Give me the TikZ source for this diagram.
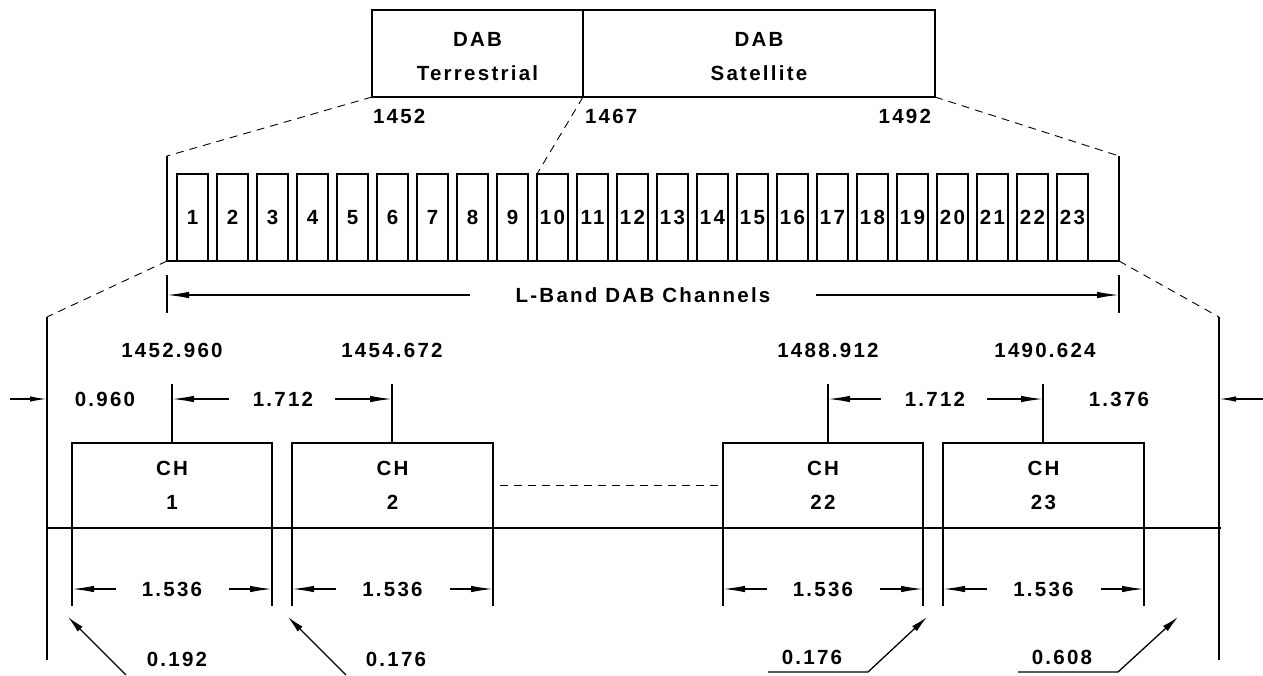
\documentclass[tikz,border=0pt]{standalone}
\usepackage{fontspec}
\setmainfont{Liberation Sans}[LetterSpace=11, BoldFont={Liberation Sans Bold}]
\usetikzlibrary{arrows.meta, positioning, calc}

\begin{document}
\begin{tikzpicture}[x=1pt, y=-1pt,
    every node/.style={font=\fontsize{20.5}{34}\selectfont\bfseries, inner sep=0pt, outer sep=0pt},
    bandbox/.style={draw, line width=1.8pt, anchor=north west, align=center, minimum height=87pt},
    chanbox/.style={draw, line width=1.5pt, anchor=north west, minimum width=31pt, minimum height=87pt},
    chbox/.style={draw, line width=1.8pt, anchor=north west, align=center, minimum height=85pt},
    guide/.style={line width=0.9pt, dash pattern=on 8pt off 6pt},
    edge/.style={line width=1.8pt},
    dimline/.style={line width=1.4pt},
    dimarrow/.style={-{Latex[length=22pt,width=6.5pt]}, line width=1.4pt},
    sidearrow/.style={-{Latex[length=17pt,width=5.5pt]}, line width=1.4pt},
    leader/.style={-{Latex[length=17pt,width=7pt]}, line width=1.3pt}
  ]
  \useasboundingbox (0,0) rectangle (1263,675);

  % Band allocation
  \node[bandbox, minimum width=211pt] (terr) at (372,10) {\rule{0pt}{20pt}DAB\\Terrestrial};
  \node[bandbox, minimum width=352pt] (sat) at (583,10) {\rule{0pt}{20pt}DAB\\Satellite};
  \node[anchor=west] (f1452) at (373,116) {1452};
  \node[anchor=west] (f1467) at (585,116) {1467};
  \node[anchor=east] (f1492) at (931,116) {1492};

  % Channel band
  \coordinate (bandTL) at (167,156);
  \coordinate (bandBL) at (167,261);
  \coordinate (bandBR) at (1119,261);
  \coordinate (bandTR) at (1119,156);
  \foreach \n in {1,...,23}
    \node[chanbox] (c\n) at ({177+40*(\n-1)},174) {\n};
  \draw[edge] (bandTL) -- (bandBL) -- (bandBR) -- (bandTR);
  \draw[guide] (terr.south west) -- (bandTL);
  \draw[guide] (sat.south east) -- (bandTR);
  \draw[guide] (terr.south east) -- (c10.north west);

  % L-Band span
  \node (lband) at (643,295) {L-Band DAB Channels};
  \coordinate (lbL) at (167,295);
  \coordinate (lbR) at (1119,295);
  \draw[dimline] ($(lbL)+(0,-20)$) -- ($(lbL)+(0,18)$);
  \draw[dimline] ($(lbR)+(0,-20)$) -- ($(lbR)+(0,18)$);
  \draw[dimarrow] ([xshift=-46pt]lband.west) -- (lbL);
  \draw[dimarrow] ([xshift=46pt]lband.east) -- (lbR);

  % Zoomed view
  \coordinate (zoomTL) at (47,317);
  \coordinate (zoomTR) at (1219,317);
  \coordinate (zoomBL) at (47,660);
  \coordinate (zoomBR) at (1219,660);
  \draw[guide] (bandBL) -- (zoomTL);
  \draw[guide] (bandBR) -- (zoomTR);
  \draw[edge] (zoomTL) -- (zoomBL);
  \draw[edge] (zoomTR) -- (zoomBR);
  \draw[edge] (zoomTL |- 0,528) -- (1221,528);

  \node[chbox, minimum width=200pt] (ch1) at (72,443) {CH\\1};
  \node[chbox, minimum width=201pt] (ch2) at (292,443) {CH\\2};
  \node[chbox, minimum width=200pt] (ch22) at (723,443) {CH\\22};
  \node[chbox, minimum width=201pt] (ch23) at (943,443) {CH\\23};
  \draw[guide] ([xshift=7pt]ch2.east) -- ([xshift=-5pt]ch22.west);

  % Channel widths
  \foreach \b in {ch1,ch2,ch22,ch23} {
    \draw[dimline] (\b.south west) -- ++(0,78);
    \draw[dimline] (\b.south east) -- ++(0,78);
    \node (w\b) at ($(\b.south)+(0,61)$) {1.536};
    \draw[dimarrow] ($(\b.south west)+(44,61)$) -- ($(\b.south west)+(0,61)$);
    \draw[dimarrow] ($(\b.south east)+(-43,61)$) -- ($(\b.south east)+(0,61)$);
  }

  % Centre frequencies
  \coordinate (t1) at (172,384);
  \coordinate (t2) at (392,384);
  \coordinate (t22) at (828,384);
  \coordinate (t23) at (1043,384);
  \draw[dimline] (t1) -- (t1 |- ch1.north);
  \draw[dimline] (t2) -- (t2 |- ch2.north);
  \draw[dimline] (t22) -- (t22 |- ch22.north);
  \draw[dimline] (t23) -- (t23 |- ch23.north);
  \node (fq1) at (172,350) {1452.960};
  \node (fq2) at (392,350) {1454.672};
  \node (fq22) at (828,350) {1488.912};
  \node (fq23) at (1045,350) {1490.624};

  % Spacing
  \node (sp1) at (283,399) {1.712};
  \draw[dimarrow] ([xshift=-24pt]sp1.west) -- (t1 |- sp1);
  \draw[dimarrow] ([xshift=22pt]sp1.east) -- (t2 |- sp1);
  \node (sp2) at (935,399) {1.712};
  \draw[dimarrow] ([xshift=-24pt]sp2.west) -- (t22 |- sp2);
  \draw[dimarrow] ([xshift=22pt]sp2.east) -- (t23 |- sp2);

  % Outer guards
  \node (g0) at (105,399) {0.960};
  \node (g23) at (1119,399) {1.376};
  \coordinate (inL) at (10,399);
  \coordinate (inR) at (1263,399);
  \draw[sidearrow] (inL) -- (zoomTL |- g0);
  \draw[sidearrow] (inR) -- (zoomTR |- g23);

  % Guard bands
  \node (gd1) at (177,659) {0.192};
  \node (gd2) at (396,659) {0.176};
  \node (gd22) at (812,657) {0.176};
  \node (gd23) at (1062,657) {0.608};
  \coordinate (l1) at (126,675);
  \coordinate (l2) at (346,675);
  \coordinate (u22) at (768,672);
  \coordinate (u23) at (1018,672);
  \draw[leader] (l1) -- ($(ch1.south west)+(-4,89)$);
  \draw[leader] (l2) -- ($(ch2.south west)+(-4,89)$);
  \draw[leader] (u22) -- ++(100,0) -- ($(ch22.south east)+(4,89)$);
  \draw[leader] (u23) -- ++(100,0) -- ($(ch23.south east)+(34,89)$);
\end{tikzpicture}
\end{document}
